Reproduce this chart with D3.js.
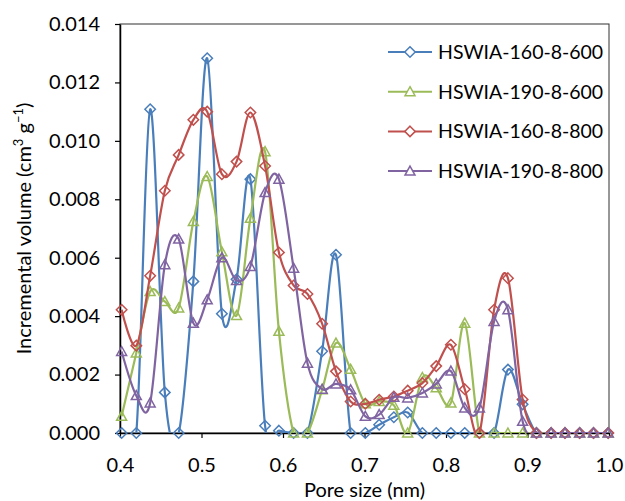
<!DOCTYPE html>
<html>
<head>
<meta charset="utf-8">
<script src="https://cdn.jsdelivr.net/npm/d3@7"></script>
<style>
  body { margin: 0; background: #fff; }
  text { font-family: Lato, "Open Sans", sans-serif; fill: #000; }
</style>
</head>
<body>
<script>
// pore sizes (nm), shared by all four series
const poreSize = [0.402, 0.420, 0.437, 0.455, 0.472, 0.490, 0.507, 0.525, 0.543, 0.560,
                  0.578, 0.595, 0.613, 0.630, 0.648, 0.665, 0.683, 0.701, 0.718, 0.736,
                  0.753, 0.771, 0.788, 0.806, 0.823, 0.841, 0.859, 0.876, 0.894, 0.911,
                  0.929, 0.946, 0.964, 0.981, 0.999];

const hswia160_600 = [0, 0, 0.01108, 0.00139, 0, 0.00519, 0.01283, 0.00408, 0.00526, 0.00869,
                      0.00025, 0.00008, 0, 0, 0.00280, 0.00610, 0, 0, 0.00028, 0.00054,
                      0.00070, 0, 0, 0, 0, 0, 0, 0.00217, 0.00098, 0,
                      0, 0, 0, 0, 0];
const hswia190_600 = [0.00057, 0.00274, 0.00484, 0.00450, 0.00428, 0.00724, 0.00878, 0.00620, 0.00402, 0.00735,
                      0.00963, 0.00348, 0, 0, 0.00148, 0.00308, 0.00218, 0.00100, 0.00108, 0.00095,
                      0, 0.00190, 0.00155, 0.00103, 0.00376, 0, 0, 0, 0, 0,
                      0, 0, 0, 0, 0];
const hswia160_800 = [0.00422, 0.00299, 0.00538, 0.00829, 0.00952, 0.01072, 0.01100, 0.00886, 0.00929, 0.01097,
                      0.00914, 0.00618, 0.00505, 0.00476, 0.00374, 0.00211, 0.00108, 0.00100, 0.00114, 0.00125,
                      0.00145, 0.00171, 0.00229, 0.00302, 0.00150, 0, 0.00422, 0.00530, 0.00115, 0,
                      0, 0, 0, 0, 0];
const hswia190_800 = [0.00279, 0.00128, 0.00103, 0.00576, 0.00664, 0.00376, 0.00456, 0.00600, 0.00522, 0.00570,
                      0.00823, 0.00869, 0.00564, 0.00239, 0.00150, 0.00168, 0.00148, 0.00057, 0.00063, 0.00122,
                      0.00120, 0.00137, 0.00168, 0.00212, 0.00086, 0.00086, 0.00382, 0.00422, 0.00040, 0,
                      0, 0, 0, 0, 0];

const seriesNames = ['HSWIA-160-8-600', 'HSWIA-190-8-600', 'HSWIA-160-8-800', 'HSWIA-190-8-800'];
const xTicks = [0.4, 0.5, 0.6, 0.7, 0.8, 0.9, 1.0];
const yTicks = [0, 0.002, 0.004, 0.006, 0.008, 0.010, 0.012, 0.014];

const colors = ['#4a7ebb', '#9bbb59', '#c0504d', '#8064a2'];
const markers = ['diamond', 'triangle', 'diamond', 'triangle'];
const allValues = [hswia160_600, hswia190_600, hswia160_800, hswia190_800];

const series = seriesNames.map((name, i) => ({
    name: name,
    color: colors[i],
    marker: markers[i],
    points: poreSize.map((x, j) => ({ x: x, y: allValues[i][j] }))
}));

const svgWidth = 625;
const svgHeight = 501;
const margin = { top: 24, right: 16, bottom: 68, left: 120 };

const svg = d3.select('body')
    .append('svg')
    .attr('width', svgWidth)
    .attr('height', svgHeight);

const xScale = d3.scaleLinear()
    .domain([0.4, 1.0])
    .range([margin.left, svgWidth - margin.right]);

const yScale = d3.scaleLinear()
    .domain([0, 0.014])
    .range([svgHeight - margin.bottom, margin.top]);

// marker shapes (Excel style)
const diamond = {
    draw(ctx, size) {
        const r = Math.sqrt(size) / 2;
        ctx.moveTo(0, -r); ctx.lineTo(r, 0); ctx.lineTo(0, r); ctx.lineTo(-r, 0); ctx.closePath();
    }
};
const triangle = {
    draw(ctx, size) {
        const r = Math.sqrt(size) / 2;
        ctx.moveTo(0, -r); ctx.lineTo(r, r * 0.8); ctx.lineTo(-r, r * 0.8); ctx.closePath();
    }
};
const symbolFor = m => d3.symbol().type(m === 'diamond' ? diamond : triangle).size(m === 'diamond' ? 110 : 100)();

// plot frame
svg.append('rect')
    .attr('x', xScale(0.4))
    .attr('y', yScale(0.014))
    .attr('width', xScale(1.0) - xScale(0.4))
    .attr('height', yScale(0) - yScale(0.014))
    .attr('fill', 'none')
    .attr('stroke', '#303030')
    .attr('stroke-width', 1);

svg.append('clipPath')
    .attr('id', 'plot-clip')
    .append('rect')
    .attr('x', xScale(0.4))
    .attr('y', yScale(0.014))
    .attr('width', xScale(1.0) - xScale(0.4))
    .attr('height', yScale(0) - yScale(0.014));

// X-axis
const xAxis = svg.append('g')
    .attr('transform', `translate(0,${yScale(0)})`)
    .call(d3.axisBottom(xScale).tickValues(xTicks).tickFormat(d3.format('.1f')).tickSize(5).tickPadding(20).tickSizeOuter(0));

// Y-axis
const yAxis = svg.append('g')
    .attr('transform', `translate(${xScale(0.4)},0)`)
    .call(d3.axisLeft(yScale).tickValues(yTicks).tickFormat(d3.format('.3f')).tickSize(5).tickPadding(15).tickSizeOuter(0));

[xAxis, yAxis].forEach(ax => {
    ax.select('.domain').attr('stroke', '#000').attr('stroke-width', 1.5);
    ax.selectAll('.tick line').attr('stroke', '#000').attr('stroke-width', 1.2);
    ax.selectAll('.tick text').style('font-family', 'Lato, sans-serif').style('font-size', '20px').attr('fill', '#000');
});

const line = d3.line()
    .x(d => xScale(d.x))
    .y(d => yScale(d.y))
    .curve(d3.curveCatmullRom.alpha(0));

const plot = svg.append('g');

series.forEach(s => {
    const g = plot.append('g');
    g.append('path')
        .datum(s.points)
        .attr('clip-path', 'url(#plot-clip)')
        .attr('fill', 'none')
        .attr('stroke', s.color)
        .attr('stroke-width', 2.2)
        .attr('d', line);
    g.selectAll('path.mark')
        .data(s.points)
        .enter()
        .append('path')
        .attr('class', 'mark')
        .attr('transform', d => `translate(${xScale(d.x)},${yScale(d.y)})`)
        .attr('d', symbolFor(s.marker))
        .attr('fill', 'none')
        .attr('stroke', s.color)
        .attr('stroke-width', 1.5);
});

// Legend
const legend = svg.append('g').attr('transform', 'translate(388,52)');
series.forEach((s, i) => {
    const row = legend.append('g').attr('transform', `translate(0,${i * 39.7})`);
    row.append('line')
        .attr('x1', 0).attr('x2', 44)
        .attr('y1', 0).attr('y2', 0)
        .attr('stroke', s.color)
        .attr('stroke-width', 2);
    row.append('path')
        .attr('transform', 'translate(22,0)')
        .attr('d', symbolFor(s.marker))
        .attr('fill', '#fff')
        .attr('stroke', s.color)
        .attr('stroke-width', 1.5);
    row.append('text')
        .attr('x', 50)
        .attr('y', 0)
        .attr('dy', '0.35em')
        .style('font-size', '19.5px')
        .text(s.name);
});

// Axis titles
svg.append('text')
    .attr('x', (xScale(0.4) + xScale(1.0)) / 2)
    .attr('y', 497)
    .style('text-anchor', 'middle')
    .style('font-size', '20px')
    .text('Pore size (nm)');

const yTitle = svg.append('text')
    .attr('transform', `translate(31,${(yScale(0) + yScale(0.014)) / 2}) rotate(-90)`)
    .style('text-anchor', 'middle')
    .style('font-size', '20px');
yTitle.append('tspan').text('Incremental volume (cm');
yTitle.append('tspan').attr('baseline-shift', 'super').style('font-size', '13px').text('3');
yTitle.append('tspan').text(' g');
yTitle.append('tspan').attr('baseline-shift', 'super').style('font-size', '13px').text('\u22121');
yTitle.append('tspan').text(')');
</script>
</body>
</html>
